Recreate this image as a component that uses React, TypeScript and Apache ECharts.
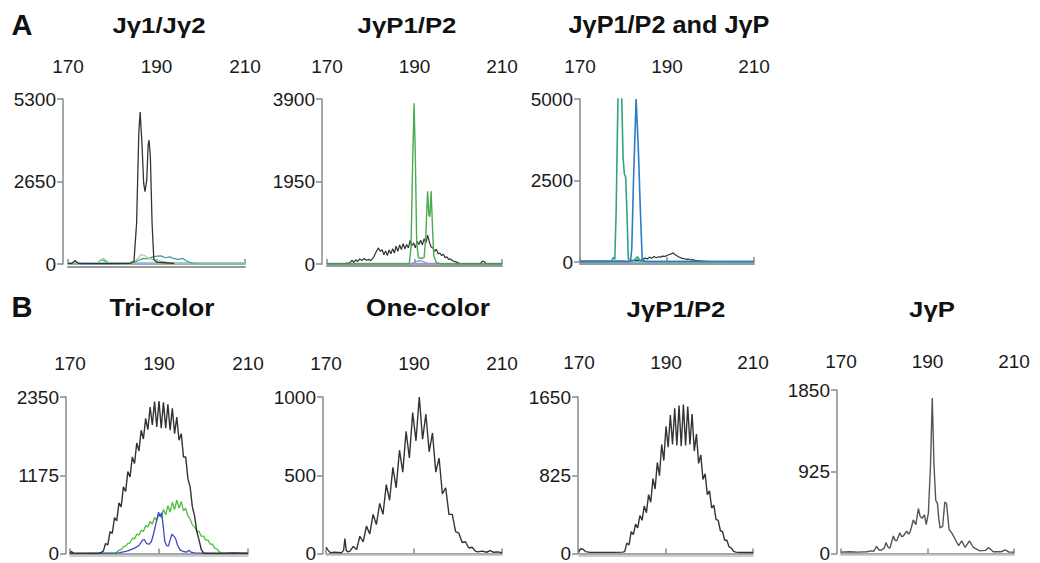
import React, { useEffect, useRef } from "react";
import * as echarts from "echarts";

const FONT = "'Liberation Sans', Arial, Helvetica, sans-serif";

type Pt = [number, number];
const stepped = (x0: number, step: number, ys: number[]): Pt[] =>
  ys.map((y, i) => [Math.round((x0 + i * step) * 100) / 100, y] as Pt);

// ---------------- DATA ----------------
const xMin = 170;
const xMax = 210;
const xInterval = 20;
const panelTitles = ["Jγ1/Jγ2", "JγP1/P2", "JγP1/P2 and JγP", "Tri-color", "One-color", "JγP1/P2", "JγP"];
const sectionLetters = ["A", "B"];
const yMax = [5300, 3900, 5000, 2350, 1000, 1650, 1850];

// A: Jγ1/Jγ2
const a1Black: Pt[] = [[170, 10], [171, 30], [171.6, 110], [172.2, 30], [173, 10], [180, 15], [184, 20], [184.9, 80], [185.5, 1300], [186, 4200], [186.3, 4880], [186.7, 3900], [187.1, 2600], [187.4, 2320], [187.8, 2700], [188.1, 3800], [188.3, 3980], [188.6, 3500], [189, 1300], [189.4, 150], [190, 60], [192, 40], [194, 20]];
const a1Green: Pt[] = [[170, 0], [176.5, 0], [177.2, 120], [178, 180], [178.8, 100], [179.5, 10], [183, 20], [185, 80], [186, 200], [186.5, 300], [187.2, 280], [188, 200], [189, 150], [190, 120], [191, 90], [192, 60], [193.5, 30], [195, 0], [210, 0]];
const a1Teal: Pt[] = [[170, 0], [176.5, 0], [177.5, 140], [178.3, 100], [179, 20], [183, 30], [185, 60], [186, 120], [187, 180], [188, 160], [189, 220], [190, 250], [191, 260], [192, 200], [193, 230], [194, 170], [195, 150], [196, 180], [197, 80], [198, 30], [200, 0], [210, 0]];
const a1Base: Pt[] = [[170, 40], [210, 40]];

// A: JγP1/P2
const a2Green: Pt[] = [[170, 0], [188.8, 0], [189.2, 400], [189.6, 2500], [189.9, 3800], [190.2, 2500], [190.5, 500], [190.9, 150], [191.5, 130], [192.2, 150], [192.6, 700], [193.0, 1720], [193.3, 1150], [193.5, 1120], [193.8, 1720], [194.1, 900], [194.4, 200], [195, 30], [196, 0], [210, 0]];
const a2Black: Pt[] = [[170, 5], [174, 10], [175.3, 30], [175.7, 90], [176.1, 40], [176.6, 100], [177, 60], [177.5, 120], [178, 80], [178.5, 130], [179, 90], [179.5, 110], [180, 80], [180.6, 150], [181.1, 260], [181.7, 380], [182.2, 300], [182.6, 340], [183, 220], [183.4, 310], [183.8, 200], [184.2, 330], [184.6, 240], [185, 360], [185.4, 260], [185.8, 420], [186.2, 300], [186.6, 450], [187, 340], [187.4, 480], [187.8, 360], [188.2, 460], [188.6, 380], [189, 560], [189.4, 430], [189.8, 500], [190.2, 380], [190.6, 540], [191, 460], [191.4, 560], [191.8, 450], [192.2, 600], [192.6, 500], [193, 680], [193.4, 520], [193.8, 400], [194.2, 380], [194.6, 300], [195, 350], [195.4, 240], [195.8, 260], [196.2, 200], [196.6, 230], [197, 150], [197.4, 170], [197.8, 110], [198.2, 120], [198.8, 70], [199.5, 50], [200.3, 10], [202, 5], [205, 5], [205.5, 70], [205.9, 60], [206.4, 5], [210, 5]];
const a2Purple: Pt[] = [[170, 0], [189, 0], [190, 40], [191, 80], [192, 60], [193, 10], [210, 0]];
const a2Base: Pt[] = [[170, 15], [210, 15]];

// A: JγP1/P2 and JγP
const a3Green: Pt[] = [[170, 10], [176.5, 10], [177.3, 40], [177.7, 140], [178.0, 80], [178.3, 1500], [178.8, 5600], [179.3, 6000], [179.6, 5000], [179.9, 3200], [180.2, 2700], [180.5, 2600], [180.8, 1500], [181.1, 100], [181.6, 30], [182.5, 60], [183.2, 160], [183.8, 40], [185, 20], [210, 10]];
const a3Blue: Pt[] = [[170, 10], [181, 10], [181.6, 20], [181.9, 400], [182.3, 2500], [182.9, 5000], [183.4, 3500], [183.9, 1500], [184.3, 100], [184.8, 20], [210, 10]];
const a3Black: Pt[] = [[170, 30], [180, 30], [181, 20], [182, 40], [183, 60], [184, 50], [185, 120], [185.5, 90], [186, 150], [186.5, 110], [187, 170], [187.5, 130], [188, 160], [188.5, 150], [189, 180], [189.5, 170], [190, 200], [190.5, 230], [191, 250], [191.4, 280], [191.8, 230], [192.2, 200], [192.6, 160], [193, 140], [193.5, 110], [194, 100], [194.5, 80], [195, 90], [195.5, 60], [196, 70], [196.5, 50], [197, 40], [198, 30], [199, 20], [200, 10]];
const a3Base: Pt[] = [[170, 5], [210, 5]];

// B: Tri-color (black sampled every 0.5 from 176)
const triBlackHead: Pt[] = [[170, 0], [170.3, 30], [170.8, 5], [176, 0]];
const triBlackRipple = [0, 5, 15, 40, 150, 130, 330, 300, 540, 490, 760, 700, 1000, 930, 1230, 1150, 1450, 1350, 1660, 1540, 1850, 1720, 2030, 1860, 2200, 1930, 2280, 1900, 2290, 1880, 2270, 1880, 2240, 1850, 2180, 1800, 2050, 1700, 1800, 1450, 1450, 1120, 1000, 700, 560, 330, 200, 60, 10, 0];
const triBlackTail: Pt[] = [[203, 0], [207, 10], [210, 0]];
const triGreenRipple = [0, 20, 50, 60, 100, 110, 150, 160, 230, 220, 290, 280, 350, 330, 420, 400, 480, 440, 540, 500, 590, 540, 660, 580, 720, 620, 770, 660, 800, 680, 780, 640, 680, 560, 520, 430, 400, 330, 330, 260, 260, 200, 200, 140, 140, 80, 70, 30, 10, 0];
const triBlue: Pt[] = [[170, 0], [181, 10], [183, 40], [184.5, 80], [185.5, 120], [186.3, 200], [186.7, 210], [187.2, 150], [187.8, 140], [188.3, 180], [188.8, 300], [189.3, 450], [189.9, 620], [190.2, 560], [190.6, 610], [191, 380], [191.3, 180], [191.7, 120], [192.1, 110], [192.5, 200], [192.9, 290], [193.3, 260], [193.7, 230], [194.2, 120], [194.8, 50], [195.5, 30], [196.2, 20], [196.7, 50], [197.2, 20], [198, 10], [205, 0], [210, 5]];

// B: One-color (sampled every 0.75 from 175.45)
const oneHead: Pt[] = [[170, 40], [170.5, 20], [171, 5], [172, 8], [173.5, 5], [174, 20], [174.3, 95], [174.6, 20], [175, 10]];
const oneRipple = [15, 45, 25, 110, 75, 175, 125, 250, 185, 320, 250, 440, 340, 550, 420, 660, 520, 780, 610, 900, 720, 1000, 730, 890, 650, 770, 520, 610, 380, 420, 250, 250, 140, 130, 70, 75, 35, 40, 15];
const oneTail: Pt[] = [[204.5, 10], [205.5, 15], [206.5, 8], [207.3, 18], [208, 8], [209, 10], [210, 5]];

// B: JγP1/P2 (sampled every 0.5 from 180.5)
const p12Head: Pt[] = [[170, 20], [170.4, 50], [170.9, 45], [171.5, 20], [172.5, 12], [175, 12], [178, 12], [180, 15]];
const p12Ripple = [20, 110, 90, 230, 200, 310, 270, 400, 350, 500, 430, 620, 540, 790, 680, 960, 820, 1150, 980, 1340, 1120, 1460, 1150, 1530, 1140, 1560, 1130, 1570, 1140, 1550, 1150, 1470, 1080, 1260, 950, 1040, 780, 840, 620, 660, 480, 510, 360, 350, 240, 230, 140, 140, 70, 60, 25, 15];
const p12Tail: Pt[] = [[207, 10], [210, 10]];

// B: JγP
const jpTrace: Pt[] = [[170, 15], [172, 20], [174, 15], [176, 20], [177, 30], [177.6, 25], [178.2, 80], [178.8, 40], [179.4, 40], [180, 60], [180.4, 124], [180.9, 70], [181.3, 60], [182.1, 198], [182.5, 150], [182.9, 143], [183.6, 234], [184, 190], [184.4, 198], [185.2, 253], [185.6, 220], [185.9, 234], [186.3, 300], [186.7, 381], [187.3, 326], [187.9, 509], [188.3, 420], [188.7, 399], [189.3, 436], [189.7, 326], [190.2, 454], [190.7, 1004], [191.1, 1760], [191.5, 1004], [191.9, 602], [192.3, 565], [192.6, 400], [192.9, 290], [193.5, 308], [194, 583], [194.4, 565], [195, 271], [195.6, 234], [196.4, 161], [197.2, 88], [197.9, 143], [198.7, 68], [199.7, 143], [200.6, 68], [202.1, 30], [203.4, 35], [204.1, 68], [205.2, 20], [207, 20], [208, 40], [208.8, 15], [210, 15]];

// ---------------- LAYOUT / STYLE ----------------
const AX = "#8a8a8a";
const LABEL_SIZE = 19;
const panels = [
  { left: 68, top: 99, width: 177, height: 165, xOff: 10, yOff: 5, base: { off: 3, color: "#9a9a9a", w: 2 } },
  { left: 327, top: 99, width: 175, height: 165, xOff: 10, yOff: 5, base: { off: 2, color: "#9a9a9a", w: 2 } },
  { left: 580, top: 99, width: 174, height: 163, xOff: 10, yOff: 0, base: { off: 2, color: "#9a9a9a", w: 2 } },
  { left: 70, top: 397, width: 178, height: 165, xOff: 11, yOff: 4, base: { off: 2, color: "#bdbdbd", w: 1.5 } },
  { left: 326, top: 397, width: 176, height: 163, xOff: 11, yOff: 3, base: { off: 1, color: "#bdbdbd", w: 1.5 } },
  { left: 579, top: 397, width: 174, height: 160, xOff: 12, yOff: 1, base: { off: 2, color: "#bdbdbd", w: 1.5 } },
  { left: 841, top: 390, width: 173, height: 167, xOff: 6, yOff: 4, base: { off: 1, color: "#c4c4c4", w: 1.5 } },
];
const titlePos = [
  { x: 159, y: 25, sx: 1.12 },
  { x: 407, y: 25, sx: 1.12 },
  { x: 669, y: 25, sx: 1.1 },
  { x: 162, y: 308, sx: 1.14 },
  { x: 428, y: 308, sx: 1.14 },
  { x: 676, y: 309, sx: 1.12 },
  { x: 932, y: 309, sx: 1.12 },
];
const letterPos = [
  { x: 22, y: 25 },
  { x: 22, y: 307 },
];

function buildSeries() {
  const s: any[] = [];
  const add = (p: number, data: Pt[], color: string, width = 1.3, z = 2) => {
    s.push({
      type: "line",
      xAxisIndex: p * 2,
      yAxisIndex: p,
      data,
      showSymbol: false,
      symbol: "none",
      silent: true,
      clip: true,
      z,
      lineStyle: { color, width },
      itemStyle: { color },
    });
  };
  add(0, a1Base, "#8ecbe8", 1.5, 1);
  add(0, a1Teal, "#3d9aa6", 1.2, 2);
  add(0, a1Green, "#a6d37e", 1.2, 2);
  add(0, a1Black, "#333333", 1.3, 3);

  add(1, a2Base, "#8d9fc9", 1.3, 1);
  add(1, a2Purple, "#9b8fd6", 1.2, 2);
  add(1, a2Black, "#333333", 1.2, 2);
  add(1, a2Green, "#4aab4f", 1.4, 3);

  add(2, a3Base, "#6cc6ec", 1.5, 1);
  add(2, a3Black, "#333333", 1.2, 2);
  add(2, a3Green, "#2fa386", 1.6, 3);
  add(2, a3Blue, "#2a7cc9", 1.6, 3);

  add(3, [...triBlackHead, ...stepped(176, 0.5, triBlackRipple), ...triBlackTail], "#333333", 1.4, 3);
  add(3, [[170, 0], ...stepped(180, 0.5, triGreenRipple), [210, 0]], "#4dbf3e", 1.3, 2);
  add(3, triBlue, "#3b49c2", 1.3, 2);

  add(4, [...oneHead, ...stepped(175.45, 0.75, oneRipple), ...oneTail], "#333333", 1.4, 3);
  add(5, [...p12Head, ...stepped(180.5, 0.5, p12Ripple), ...p12Tail], "#333333", 1.4, 3);
  add(6, jpTrace, "#555555", 1.4, 3);
  return s;
}

function buildOption() {
  const grid: any[] = [];
  const xAxis: any[] = [];
  const yAxis: any[] = [];
  const plain = (v: number) => String(v);
  panels.forEach((pn, p) => {
    grid.push({ left: pn.left, top: pn.top, width: pn.width, height: pn.height, containLabel: false });
    xAxis.push({
      gridIndex: p,
      type: "value",
      position: "top",
      min: xMin,
      max: xMax,
      interval: xInterval,
      offset: pn.xOff,
      axisLine: { show: true, lineStyle: { color: AX, width: 1.5 } },
      axisTick: { show: true, inside: false, length: 5, lineStyle: { color: AX, width: 1.5 } },
      axisLabel: { show: true, fontSize: LABEL_SIZE, fontFamily: FONT, color: "#1a1a1a", margin: 13, showMinLabel: true, showMaxLabel: true, hideOverlap: false, formatter: plain },
      splitLine: { show: false },
    });
    xAxis.push({
      gridIndex: p,
      type: "value",
      position: "bottom",
      min: xMin,
      max: xMax,
      offset: pn.base.off,
      axisLine: { show: true, lineStyle: { color: pn.base.color, width: pn.base.w } },
      axisTick: { show: false },
      axisLabel: { show: false },
      splitLine: { show: false },
    });
    yAxis.push({
      gridIndex: p,
      type: "value",
      min: 0,
      max: yMax[p],
      interval: yMax[p] / 2,
      offset: pn.yOff,
      axisLine: { show: true, lineStyle: { color: AX, width: 1.5 } },
      axisTick: { show: true, inside: false, length: 6, lineStyle: { color: AX, width: 1.5 } },
      axisLabel: { show: true, fontSize: LABEL_SIZE, fontFamily: FONT, color: "#1a1a1a", margin: 7, showMinLabel: true, showMaxLabel: true, formatter: plain },
      splitLine: { show: false },
    });
  });

  const graphic: any[] = [];
  panelTitles.forEach((t, i) => {
    graphic.push({
      type: "text",
      x: titlePos[i].x,
      y: titlePos[i].y,
      scaleX: titlePos[i].sx,
      silent: true,
      style: {
        text: t,
        font: `bold 23px ${FONT}`,
        fill: "#111111",
        textAlign: "center",
        textVerticalAlign: "middle",
      },
    });
  });
  sectionLetters.forEach((t, i) => {
    graphic.push({
      type: "text",
      x: letterPos[i].x,
      y: letterPos[i].y,
      silent: true,
      style: {
        text: t,
        font: `bold 29px ${FONT}`,
        fill: "#111111",
        textAlign: "center",
        textVerticalAlign: "middle",
      },
    });
  });

  return {
    animation: false,
    backgroundColor: "#ffffff",
    textStyle: { fontFamily: FONT },
    grid,
    xAxis,
    yAxis,
    series: buildSeries(),
    graphic,
  };
}

export default function App() {
  const ref = useRef<HTMLDivElement>(null);
  useEffect(() => {
    document.body.style.margin = "0";
    const chart = echarts.init(ref.current as HTMLDivElement, null, { renderer: "svg" });
    chart.setOption(buildOption() as any);
    return () => chart.dispose();
  }, []);
  return <div ref={ref} style={{ width: 1040, height: 563 }} />;
}
